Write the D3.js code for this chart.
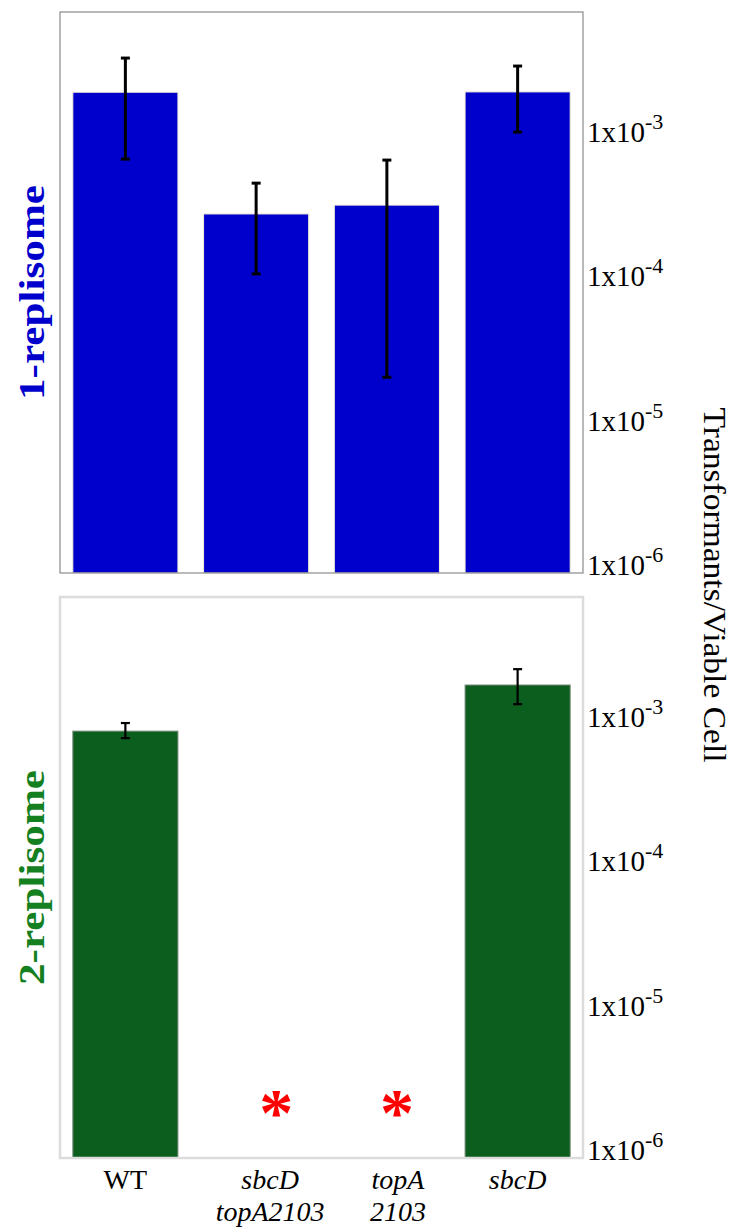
<!DOCTYPE html>
<html>
<head>
<meta charset="utf-8">
<script src="https://cdn.jsdelivr.net/npm/d3@7"></script>
<style>
  html, body { margin: 0; padding: 0; background: #ffffff; }
  svg { display: block; }
  text { font-family: "Liberation Serif", "DejaVu Serif", serif; }
</style>
</head>
<body>
<div id="chart"></div>
<script>
// ---------------- DATA ----------------
const categories = ["WT", "sbcD topA2103", "topA 2103", "sbcD"];
const categoryLines = [["WT"], ["sbcD", "topA2103"], ["topA", "2103"], ["sbcD"]];
const categoryItalic = [false, true, true, true];

// 1-replisome (Transformants / Viable Cell)
const oneReplisomeValues = [1.89e-3, 2.71e-4, 3.12e-4, 1.90e-3];
const oneReplisomeLow    = [6.5e-4, 1.04e-4, 2.0e-5, 1.0e-3];
const oneReplisomeHigh   = [3.26e-3, 4.43e-4, 6.4e-4, 2.87e-3];

// 2-replisome (null = none detected, marked with asterisk)
const twoReplisomeValues = [8.0e-4, null, null, 1.67e-3];
const twoReplisomeLow    = [7.15e-4, null, null, 1.23e-3];
const twoReplisomeHigh   = [9.1e-4, null, null, 2.15e-3];
const notDetectedLevel = 2.1e-6;

// axis ticks
const tickValues = [1e-3, 1e-4, 1e-5, 1e-6];
const tickMantissa = ["1x10", "1x10", "1x10", "1x10"];
const tickExponents = ["-3", "-4", "-5", "-6"];
const axisTitle = "Transformants/Viable Cell";
const panelTitles = ["1-replisome", "2-replisome"];

// ---------------- LAYOUT ----------------
const W = 735, H = 1228;
const plotLeft = 60, plotRight = 583;
const panelH = 561;
const panelTops = [12, 597];
const yDomain = [8.8e-7, 6.8e-3];

const svg = d3.select("#chart").append("svg")
  .attr("width", W).attr("height", H);

const x = d3.scaleBand()
  .domain(categories)
  .range([plotLeft, plotRight])
  .paddingInner(0.196)
  .paddingOuter(0.098);

const labelShift = [0, 14, 11, 0];
const starShift = [0, 20, 10, 0];

const panels = [
  {
    top: panelTops[0], values: oneReplisomeValues, low: oneReplisomeLow, high: oneReplisomeHigh,
    barColor: "#0000cc", barStroke: "#f4efd8", titleColor: "#0000cc",
    frameColor: "#8a8a8a", frameWidth: 1.2, errWidth: 3, capW: 9, title: panelTitles[0]
  },
  {
    top: panelTops[1], values: twoReplisomeValues, low: twoReplisomeLow, high: twoReplisomeHigh,
    barColor: "#0b5e1e", barStroke: "#7c8f7e", titleColor: "#15801f",
    frameColor: "#dcdcdc", frameWidth: 2.5, errWidth: 2.2, capW: 9, title: panelTitles[1]
  }
];

panels.forEach(p => {
  const y = d3.scaleLog().domain(yDomain).range([p.top + panelH, p.top]);
  const g = svg.append("g");

  const idx = categories.map((c, i) => i);

  // bars
  g.selectAll("rect.bar")
    .data(idx.filter(i => p.values[i] != null))
    .join("rect")
    .attr("class", "bar")
    .attr("x", i => x(categories[i]))
    .attr("width", x.bandwidth())
    .attr("y", i => y(p.values[i]))
    .attr("height", i => y(yDomain[0]) - y(p.values[i]))
    .attr("fill", p.barColor)
    .attr("stroke", p.barStroke)
    .attr("stroke-width", 1);

  // error bars
  const eb = g.selectAll("g.err")
    .data(idx.filter(i => p.low[i] != null))
    .join("g").attr("class", "err");
  eb.append("line")
    .attr("x1", i => x(categories[i]) + x.bandwidth() / 2)
    .attr("x2", i => x(categories[i]) + x.bandwidth() / 2)
    .attr("y1", i => y(p.low[i]))
    .attr("y2", i => y(p.high[i]))
    .attr("stroke", "#000").attr("stroke-width", p.errWidth);
  ["low", "high"].forEach(k => {
    eb.append("line")
      .attr("x1", i => x(categories[i]) + x.bandwidth() / 2 - p.capW / 2)
      .attr("x2", i => x(categories[i]) + x.bandwidth() / 2 + p.capW / 2)
      .attr("y1", i => y(p[k][i]))
      .attr("y2", i => y(p[k][i]))
      .attr("stroke", "#000").attr("stroke-width", p.errWidth);
  });

  // asterisks for not detected
  g.selectAll("text.star")
    .data(idx.filter(i => p.values[i] == null))
    .join("text")
    .attr("class", "star")
    .attr("x", i => x(categories[i]) + x.bandwidth() / 2 + starShift[i])
    .attr("y", () => y(notDetectedLevel) + 32)
    .attr("text-anchor", "middle")
    .attr("font-size", 68)
    .attr("font-weight", "bold")
    .attr("fill", "#ff0000")
    .text("*");

  // frame
  g.append("rect")
    .attr("x", plotLeft).attr("y", p.top)
    .attr("width", plotRight - plotLeft).attr("height", panelH)
    .attr("fill", "none")
    .attr("stroke", p.frameColor)
    .attr("stroke-width", p.frameWidth);

  // right tick labels
  const tl = g.selectAll("text.tick")
    .data(tickValues)
    .join("text")
    .attr("class", "tick")
    .attr("x", 587)
    .attr("y", v => y(v) + 10)
    .attr("font-size", 29)
    .attr("fill", "#000");
  tl.append("tspan").text((v, i) => tickMantissa[i]);
  tl.append("tspan")
    .attr("dy", -13)
    .attr("font-size", 22)
    .text((v, i) => tickExponents[i]);

  // panel title on left
  const cy = p.top + panelH / 2;
  g.append("text")
    .attr("transform", `translate(44,${cy}) rotate(-90)`)
    .attr("text-anchor", "middle")
    .attr("font-size", 36)
    .attr("font-weight", "bold")
    .attr("fill", p.titleColor)
    .attr("textLength", 215)
    .attr("lengthAdjust", "spacingAndGlyphs")
    .text(p.title);
});

// shared y-axis title
svg.append("text")
  .attr("transform", `translate(704,${(panelTops[0] + panelTops[1] + panelH) / 2}) rotate(90)`)
  .attr("text-anchor", "middle")
  .attr("font-size", 31)
  .attr("fill", "#000")
  .attr("textLength", 355)
  .attr("lengthAdjust", "spacingAndGlyphs")
  .text(axisTitle);

// x labels
const xl = svg.selectAll("text.xlab")
  .data(categories)
  .join("text")
  .attr("class", "xlab")
  .attr("text-anchor", "middle")
  .attr("font-size", 28)
  .attr("font-style", (c, i) => categoryItalic[i] ? "italic" : "normal")
  .attr("fill", "#000");
xl.each(function(c, i) {
  const cx = x(c) + x.bandwidth() / 2 + labelShift[i];
  d3.select(this).selectAll("tspan")
    .data(categoryLines[i])
    .join("tspan")
    .attr("x", cx)
    .attr("y", (t, j) => 1189 + j * 32)
    .text(t => t);
});
</script>
</body>
</html>
